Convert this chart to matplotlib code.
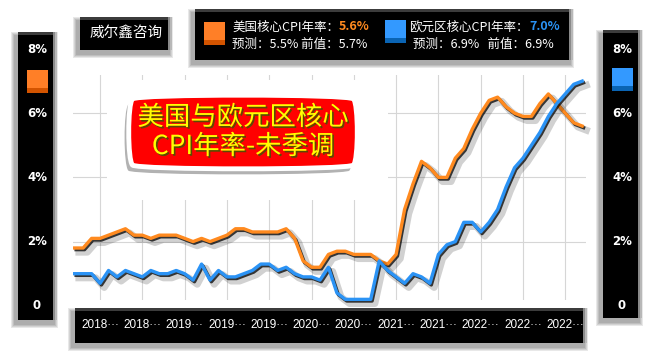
import matplotlib
matplotlib.use('Agg')
import matplotlib.pyplot as plt
import matplotlib.patheffects as pe
import matplotlib.transforms as mtransforms
from matplotlib.patches import Rectangle

plt.rcParams['font.family'] = ['Noto Sans CJK SC', 'DejaVu Sans']

# === Data (monthly, 2018-01 .. 2023-01) ===
months = [f'{y}-{m:02d}' for y in range(2018, 2024) for m in range(1, 13)][:61]

us_core = [1.8, 1.8, 2.1, 2.1, 2.2, 2.3, 2.4, 2.2, 2.2, 2.1, 2.2, 2.2,
           2.2, 2.1, 2.0, 2.1, 2.0, 2.1, 2.2, 2.4, 2.4, 2.3, 2.3, 2.3,
           2.3, 2.4, 2.1, 1.4, 1.2, 1.2, 1.6, 1.7, 1.7, 1.6, 1.6, 1.6,
           1.4, 1.3, 1.6, 3.0, 3.8, 4.5, 4.3, 4.0, 4.0, 4.6, 4.9, 5.5,
           6.0, 6.4, 6.5, 6.2, 6.0, 5.9, 5.9, 6.3, 6.6, 6.3, 6.0, 5.7,
           5.6]
eu_core = [1.0, 1.0, 1.0, 0.7, 1.1, 0.9, 1.1, 1.0, 0.9, 1.1, 1.0, 1.0,
           1.1, 1.0, 0.8, 1.3, 0.8, 1.1, 0.9, 0.9, 1.0, 1.1, 1.3, 1.3,
           1.1, 1.2, 1.0, 0.9, 0.9, 0.8, 1.2, 0.4, 0.2, 0.2, 0.2, 0.2,
           1.4, 1.1, 0.9, 0.7, 1.0, 0.9, 0.7, 1.6, 1.9, 2.0, 2.6, 2.6,
           2.3, 2.6, 3.0, 3.7, 4.3, 4.6, 5.0, 5.4, 5.9, 6.3, 6.6, 6.9,
           7.0]
us_forecast = 5.5
eu_forecast = 6.9
y_labels = [8, 6, 4, 2, 0]

ORANGE = '#ff8a1f'
BLUE = '#2b93f5'

fig = plt.figure(figsize=(6.61, 3.57), dpi=100)

# background layer in pixel coordinates (origin top-left)
bg = fig.add_axes([0, 0, 1, 1], zorder=0)
bg.set_xlim(0, 661)
bg.set_ylim(357, 0)
bg.axis('off')

# plot area
ax = fig.add_axes([73 / 661, 1 - 300 / 357, 513 / 661, 225 / 357], zorder=1)
ax.patch.set_alpha(0)
ax.set_xlim(-0.2, 60.45)
ax.set_ylim(0.18, 7.19)
for s in ax.spines.values():
    s.set_visible(False)
tick_pos = list(range(3, len(months), 5))
ax.set_xticks(tick_pos)
ax.set_yticks([2, 4, 6])
ax.tick_params(length=0, labelbottom=False, labelleft=False)
ax.set_axisbelow(True)
ax.grid(True, color='#d6d6d6', linewidth=0.8)

# overlay layer for title
ov = fig.add_axes([0, 0, 1, 1], zorder=2)
ov.set_xlim(0, 661)
ov.set_ylim(357, 0)
ov.axis('off')


def dark_box(axis, x, y, w, h):
    for k in range(4):
        g = 4 - k
        axis.add_patch(Rectangle((x - 3 - g, y + 4 - g), w + 2 * g, h + 2 * g,
                                 fc='black', ec='none', alpha=0.09))
    axis.add_patch(Rectangle((x, y), w, h, fc='black', ec='none'))
    axis.add_patch(Rectangle((x, y), w, 3, fc='#3c3c3c', ec='none'))
    axis.add_patch(Rectangle((x + w - 4, y), 4, h, fc='#8a8a8a', ec='none'))
    axis.add_patch(Rectangle((x + w - 2, y), 2, h, fc='#b8b8b8', ec='none'))


def icon(axis, x, y, face, dark):
    axis.add_patch(Rectangle((x, y), 21, 23, fc=face, ec='none'))
    axis.add_patch(Rectangle((x, y + 18), 21, 5, fc=dark, ec='none'))


# boxes
dark_box(bg, 18, 32, 39, 288)
dark_box(bg, 603, 30, 39, 288)
dark_box(bg, 75, 308, 512, 35)
dark_box(bg, 80, 17, 92, 33)
dark_box(bg, 195, 9, 378, 51)

icon(bg, 27, 70, '#ff7f27', '#d35400')
icon(bg, 612, 68, '#3399ff', '#0a64b4')
icon(bg, 204, 22, '#ff7f27', '#d35400')
icon(bg, 385, 20, '#3399ff', '#0a64b4')

bg.text(126, 33, '威尔鑫咨询', color='white', fontsize=10.5, ha='center', va='center')

# legend texts
bg.text(232, 27, '美国核心CPI年率：', color='white', fontsize=9, va='center')
bg.text(339, 27, f'{us_core[-1]:.1f}%', color=ORANGE, fontsize=9, va='center',
        weight='bold')
bg.text(232, 44, f'预测：{us_forecast:.1f}% 前值：{us_core[-2]:.1f}%',
        color='white', fontsize=9, va='center')
bg.text(409, 27, '欧元区核心CPI年率：', color='white', fontsize=9, va='center')
bg.text(529, 27, f'{eu_core[-1]:.1f}%', color=BLUE, fontsize=9, va='center',
        weight='bold')
bg.text(413, 44, f'预测：{eu_forecast:.1f}%   前值：{eu_core[-2]:.1f}%',
        color='white', fontsize=9, va='center')

# y labels inside the side boxes
ytrans = mtransforms.blended_transform_factory(bg.transData, ax.transData)
for v in y_labels:
    lab = f'{v}%' if v else '0'
    for xp in (37, 622):
        ax.text(xp, v, lab, transform=ytrans, color='white', fontsize=8.5,
                weight='bold', family='DejaVu Sans', ha='center', va='center',
                clip_on=False)

# x labels inside the bottom box
xtrans = mtransforms.blended_transform_factory(ax.transData, bg.transData)
for i in tick_pos:
    ax.text(i, 325, months[i][:4] + '···', transform=xtrans, color='white',
            fontsize=8.5, family='Liberation Sans', ha='center', va='center',
            clip_on=False)

# white panel behind the title
ax.add_patch(Rectangle((107, 80), 281, 120, transform=bg.transData,
                       fc='white', ec='none', zorder=1))

# series
x = list(range(len(months)))
shadow = [pe.SimpleLineShadow(offset=(3, -3), shadow_color='black', alpha=0.18,
                              linewidth=5),
          pe.SimpleLineShadow(offset=(1, -1.2), shadow_color='black', alpha=0.75),
          pe.Normal()]
ax.plot(x, us_core, color=ORANGE, linewidth=2.4, zorder=2, clip_on=False,
        solid_joinstyle='round', path_effects=shadow)
ax.plot(x, eu_core, color=BLUE, linewidth=2.4, zorder=3, clip_on=False,
        solid_joinstyle='round', path_effects=shadow)

# title blob
t = ov.text(243, 132, '美国与欧元区核心\nCPI年率-未季调', ha='center', va='center',
            fontsize=19, color='#ffff00', weight='medium', linespacing=1.1,
            bbox=dict(boxstyle='round4,pad=0.38', fc='#ff0000', ec='white',
                      lw=3.5))
t.set_path_effects([pe.withSimplePatchShadow(offset=(1.2, -1.2),
                                             shadow_rgbFace='#5a4a00', alpha=1)])
t.get_bbox_patch().set_path_effects([
    pe.SimplePatchShadow(offset=(-3, -4), shadow_rgbFace='#808080', alpha=0.6),
    pe.Normal()])

fig.savefig('out.png', dpi=100)
